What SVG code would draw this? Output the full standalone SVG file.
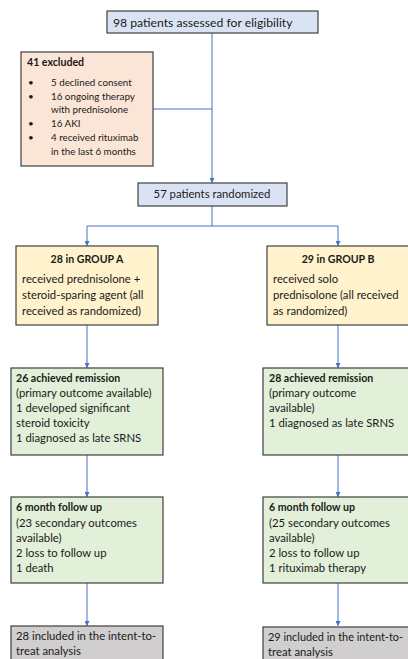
<svg xmlns="http://www.w3.org/2000/svg" width="408" height="659" viewBox="0 0 408 659">
<style>
.box{stroke:#404040;stroke-width:1.2}
.blue{fill:#dae3f3}
.peach{fill:#fbe5d6}
.yellow{fill:#fff2cc}
.green{fill:#e2f0d9}
.grey{fill:#d0cece}
text{font-family:Lato,"Open Sans","Liberation Sans",sans-serif;fill:#1a1a1a;font-size:11.3px}
.b{font-weight:bold}
.big{font-size:12.2px}
.sm{font-size:9.8px}
.conn{fill:none;stroke:#4472c4;stroke-width:1}
</style>
<defs>
<marker id="ah" markerWidth="6" markerHeight="5" refX="5" refY="2.5" orient="auto" markerUnits="userSpaceOnUse">
<path d="M0,0 L5,2.5 L0,5 z" fill="#4472c4"/>
</marker>
</defs>
<g id="connectors">
<path class="conn" d="M212,33 V183" marker-end="url(#ah)"/>
<path class="conn" d="M153,109 H212"/>
<path class="conn" d="M212,206 V226 H87 V246" marker-end="url(#ah)"/>
<path class="conn" d="M212,226 H338 V246" marker-end="url(#ah)"/>
<path class="conn" d="M87,325 V368" marker-end="url(#ah)"/>
<path class="conn" d="M338,325 V368" marker-end="url(#ah)"/>
<path class="conn" d="M87,455 V497" marker-end="url(#ah)"/>
<path class="conn" d="M338,455 V497" marker-end="url(#ah)"/>
<path class="conn" d="M87,583 V626" marker-end="url(#ah)"/>
<path class="conn" d="M338,583 V626" marker-end="url(#ah)"/>
</g>
<g id="assessed">
<rect class="box blue" x="107" y="11" width="211" height="22"/>
<text class="big" x="113" y="26.5">98 patients assessed for eligibility</text>
</g>
<g id="excluded">
<rect class="box peach" x="21" y="52" width="132" height="114"/>
<text class="b" x="27" y="66" style="font-size:10.6px">41 excluded</text>
<text class="sm" x="28" y="86">•</text><text class="sm" x="51" y="86">5 declined consent</text>
<text class="sm" x="28" y="100">•</text><text class="sm" x="51" y="100">16 ongoing therapy</text>
<text class="sm" x="51" y="113">with prednisolone</text>
<text class="sm" x="28" y="127">•</text><text class="sm" x="51" y="127">16 AKI</text>
<text class="sm" x="28" y="141">•</text><text class="sm" x="51" y="141">4 received rituximab</text>
<text class="sm" x="51" y="155">in the last 6 months</text>
</g>
<g id="randomized">
<rect class="box blue" x="138" y="183" width="149" height="23"/>
<text x="212" y="198" text-anchor="middle">57 patients randomized</text>
</g>
<g id="groupA">
<rect class="box yellow" x="16" y="246" width="142" height="79"/>
<text class="b" x="87" y="263" text-anchor="middle" style="font-size:10.6px">28 in GROUP A</text>
<text x="22" y="283">received prednisolone +</text>
<text x="22" y="299">steroid-sparing agent (all</text>
<text x="22" y="315">received as randomized)</text>
</g>
<g id="groupB">
<rect class="box yellow" x="267" y="246" width="142" height="79"/>
<text class="b" x="338" y="263" text-anchor="middle" style="font-size:10.6px">29 in GROUP B</text>
<text x="273" y="283">received solo</text>
<text x="273" y="299">prednisolone (all received</text>
<text x="273" y="315">as randomized)</text>
</g>
<g id="remissionA">
<rect class="box green" x="11" y="368" width="152" height="87"/>
<text class="b" x="16" y="382" style="font-size:10.6px">26 achieved remission</text>
<text x="16" y="397">(primary outcome available)</text>
<text x="16" y="412">1 developed significant</text>
<text x="16" y="427">steroid toxicity</text>
<text x="16" y="442">1 diagnosed as late SRNS</text>
</g>
<g id="remissionB">
<rect class="box green" x="263" y="368" width="152" height="87"/>
<text class="b" x="269" y="382" style="font-size:10.6px">28 achieved remission</text>
<text x="269" y="397">(primary outcome</text>
<text x="269" y="412">available)</text>
<text x="269" y="427">1 diagnosed as late SRNS</text>
</g>
<g id="followupA">
<rect class="box green" x="11" y="497" width="152" height="86"/>
<text class="b" x="16" y="511" style="font-size:10.6px">6 month follow up</text>
<text x="16" y="527">(23 secondary outcomes</text>
<text x="16" y="542">available)</text>
<text x="16" y="557">2 loss to follow up</text>
<text x="16" y="572">1 death</text>
</g>
<g id="followupB">
<rect class="box green" x="263" y="497" width="152" height="86"/>
<text class="b" x="269" y="511" style="font-size:10.6px">6 month follow up</text>
<text x="269" y="527">(25 secondary outcomes</text>
<text x="269" y="542">available)</text>
<text x="269" y="557">2 loss to follow up</text>
<text x="269" y="572">1 rituximab therapy</text>
</g>
<g id="ittA">
<rect class="box grey" x="11" y="626" width="152" height="40"/>
<text x="16" y="640">28 included in the intent-to-</text>
<text x="16" y="655">treat analysis</text>
</g>
<g id="ittB">
<rect class="box grey" x="263" y="627" width="152" height="40"/>
<text x="268" y="641" style="font-size:10.9px">29 included in the intent-to-</text>
<text x="268" y="656">treat analysis</text>
</g>
</svg>
